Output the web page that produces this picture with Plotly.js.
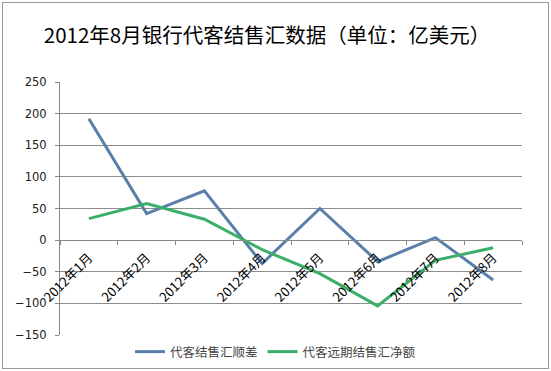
<!DOCTYPE html>
<html><head><meta charset="utf-8">
<script src="https://cdn.plot.ly/plotly-3.0.1.min.js"></script>
<style>html,body{margin:0;padding:0;background:#fff;}#wrap{position:relative;width:551px;height:371px;}#frame{position:absolute;left:2px;top:2px;width:545px;height:365px;border:1px solid #9a9a9a;pointer-events:none;}</style>
</head><body>
<div id="wrap"><div id="chart" style="width:551px;height:371px;"></div><div id="frame"></div></div>
<script>
var categories = ["2012年1月","2012年2月","2012年3月","2012年4月","2012年5月","2012年6月","2012年7月","2012年8月"];
var surplus = [192, 42, 78, -37, 50, -34, 4, -63];
var forwardNet = [34, 58, 33, -15, -53, -104, -32, -12];
var yTicks = [-150, -100, -50, 0, 50, 100, 150, 200, 250];
var seriesNames = ["代客结售汇顺差", "代客远期结售汇净额"];

var figH = 371, mTop = 81.5, mBottom = 36;
var plotH = figH - mTop - mBottom;
var zeroPos = (335 - 240) / plotH;

var traces = [
  {x: categories, y: surplus, name: seriesNames[0], type: 'scatter', mode: 'lines',
   line: {color: '#5A7FAA', width: 3}},
  {x: categories, y: forwardNet, name: seriesNames[1], type: 'scatter', mode: 'lines',
   line: {color: '#3BAF6A', width: 3}}
];
var layout = {
  width: 551, height: 371,
  margin: {l: 60, r: 29, t: mTop, b: mBottom, pad: 0, autoexpand: false},
  paper_bgcolor: '#fff', plot_bgcolor: 'rgba(0,0,0,0)',
  title: {text: '2012年8月银行代客结售汇数据（单位：亿美元）', x: 267/551, xref: 'container', xanchor: 'center',
          y: 1 - 36/371, yref: 'container', yanchor: 'middle',
          font: {family: '"Noto Sans CJK SC", sans-serif', size: 20.5, color: '#000'}},
  showlegend: true,
  legend: {orientation: 'h', x: 0.5, xref: 'container', xanchor: 'center', y: 1 - 352/371, yref: 'container', yanchor: 'middle',
           font: {family: '"Noto Sans CJK SC", sans-serif', size: 12.5, color: '#444'}, itemwidth: 30, bgcolor: 'rgba(0,0,0,0)'},
  xaxis: {type: 'category', anchor: 'free', position: zeroPos, range: [-0.5, 7.5], automargin: false,
          showline: true, linecolor: '#888', linewidth: 1, showgrid: false, zeroline: false,
          ticks: 'outside', ticklen: 4, tickcolor: '#888', tickson: 'boundaries', ticklabelstandoff: 4,
          tickangle: -45, tickfont: {family: '"Noto Sans CJK SC", "DejaVu Sans", sans-serif', size: 13, color: '#000'}},
  yaxis: {range: [-150, 250], tickvals: yTicks, showline: true, linecolor: '#888', linewidth: 1, automargin: false,
          showgrid: true, gridcolor: '#8c8c8c', gridwidth: 1, zeroline: false,
          ticks: 'outside', ticklen: 4, tickcolor: '#888', ticklabelstandoff: 6,
          tickfont: {family: '"DejaVu Sans", sans-serif', size: 11.5, color: '#222'}}
};
Plotly.newPlot('chart', traces, layout, {displayModeBar: false, staticPlot: true});
</script>
</body></html>
